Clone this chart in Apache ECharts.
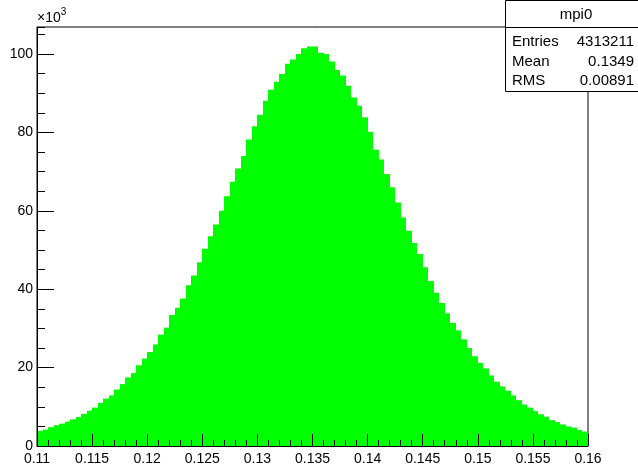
<!DOCTYPE html>
<html>
<head>
<meta charset="utf-8">
<script src="https://cdn.jsdelivr.net/npm/echarts@6/dist/echarts.min.js"></script>
<style>
html,body{margin:0;padding:0;background:#fff;}
#chart{width:638px;height:469px;}
</style>
</head>
<body>
<div id="chart"></div>
<script>
// Histogram "mpi0": 100 bins from 0.11 to 0.16, counts in units of 10^3
const histName = 'mpi0';
const xMin = 0.11;
const xMax = 0.16;
const binWidth = 0.0005;
const counts = [
  3.9, 4.2, 4.8, 5.3, 5.7, 6.2, 6.8, 7.4, 8.2, 9.0,
  9.8, 11.0, 12.1, 12.9, 14.4, 15.8, 17.5, 18.6, 20.6, 22.3,
  24.0, 25.9, 28.4, 30.2, 33.4, 35.3, 37.6, 41.0, 43.5, 46.9,
  50.3, 53.5, 56.5, 60.0, 63.7, 67.4, 70.8, 74.0, 78.2, 81.6,
  84.5, 88.1, 90.9, 92.9, 94.9, 97.5, 98.6, 100.0, 101.5, 101.9,
  101.9, 100.3, 100.0, 98.1, 95.9, 94.5, 91.9, 88.9, 86.8, 83.9,
  80.2, 75.6, 73.1, 69.4, 66.0, 62.1, 58.3, 54.9, 51.8, 49.0,
  45.6, 42.1, 39.1, 36.5, 33.9, 31.4, 29.5, 27.2, 25.0, 22.9,
  21.2, 19.8, 18.0, 16.4, 15.2, 14.1, 12.9, 11.7, 10.6, 9.8,
  8.9, 8.1, 7.5, 6.6, 6.1, 5.5, 5.0, 4.7, 4.1, 3.7
];
const statLabels = ['Entries', 'Mean', 'RMS'];
const statValues = ['4313211', '0.1349', '0.00891'];
const yMax = 106.9;
const yMajor = 20;
const yMinor = 5;
const xMajor = 0.005;

const binData = counts.map((c, i) => [xMin + i * binWidth, xMin + (i + 1) * binWidth, c]);

const FONT = '"Liberation Sans", Arial, Helvetica, sans-serif';
const chart = echarts.init(document.getElementById('chart'), null, {renderer: 'canvas'});

const statText = [];
statLabels.forEach((lab, i) => {
  const y = [42, 61.5, 80.5][i];
  statText.push({type: 'text', z: 101, style: {text: lab, x: 512, y: y, verticalAlign: 'middle', align: 'left', fontSize: 15, fontFamily: FONT, fill: '#000'}});
  statText.push({type: 'text', z: 101, style: {text: statValues[i], x: 634, y: y, verticalAlign: 'middle', align: 'right', fontSize: 15, fontFamily: FONT, fill: '#000'}});
});

chart.setOption({
  animation: false,
  backgroundColor: '#fff',
  grid: {left: 37, right: 50, top: 27, bottom: 23, show: true, borderColor: '#000', borderWidth: 1, backgroundColor: 'transparent'},
  xAxis: {
    type: 'value', min: xMin, max: xMax, interval: xMajor, z: 10,
    axisLine: {lineStyle: {color: '#000', width: 1}},
    axisTick: {inside: true, length: 12, lineStyle: {color: '#000'}},
    minorTick: {show: true, splitNumber: 5, length: 6, lineStyle: {color: '#000'}},
    splitLine: {show: false},
    axisLabel: {color: '#000', fontSize: 14, fontFamily: FONT, margin: 6,
      formatter: v => String(parseFloat(v.toFixed(4)))}
  },
  yAxis: [{
    type: 'value', min: 0, max: yMax, interval: yMajor, z: 10,
    axisLine: {show: true, lineStyle: {color: '#000', width: 1}},
    axisTick: {show: true, inside: true, length: 17, lineStyle: {color: '#000'}},
    splitLine: {show: false},
    axisLabel: {color: '#000', fontSize: 14, fontFamily: FONT, margin: 4, showMaxLabel: false}
  }, {
    type: 'value', min: 0, max: yMax, interval: yMinor, position: 'left', z: 10,
    axisLine: {show: false},
    axisTick: {show: true, inside: true, length: 8, lineStyle: {color: '#000'}},
    splitLine: {show: false},
    axisLabel: {show: false}
  }],
  series: [{
    type: 'custom',
    data: binData,
    encode: {x: [0, 1], y: 2},
    renderItem: function (params, api) {
      const p0 = api.coord([api.value(0), 0]);
      const p1 = api.coord([api.value(1), api.value(2)]);
      const x0 = Math.round(p0[0]), x1 = Math.round(p1[0]);
      return {type: 'rect', shape: {x: x0, y: p1[1], width: x1 - x0, height: p0[1] - p1[1]},
        style: {fill: '#00ff00'}};
    }
  }],
  graphic: [
    {type: 'text', z: 100, style: {text: '{a|×10}{b|3}', x: 37, y: 25, verticalAlign: 'bottom',
      rich: {a: {fontSize: 14, fontFamily: FONT, fill: '#000', verticalAlign: 'bottom'},
             b: {fontSize: 10, fontFamily: FONT, fill: '#000', verticalAlign: 'top', padding: [0, 0, 8, 0]}}}},
    {type: 'rect', z: 100, shape: {x: 505.5, y: 0.5, width: 140, height: 91}, style: {fill: '#fff', stroke: '#000', lineWidth: 1}},
    {type: 'line', z: 101, shape: {x1: 505.5, y1: 27.5, x2: 645, y2: 27.5}, style: {stroke: '#000', lineWidth: 1}},
    {type: 'text', z: 101, style: {text: histName, x: 576, y: 15, align: 'center', verticalAlign: 'middle', fontSize: 15, fontFamily: FONT, fill: '#000'}}
  ].concat(statText)
});
</script>
</body>
</html>
